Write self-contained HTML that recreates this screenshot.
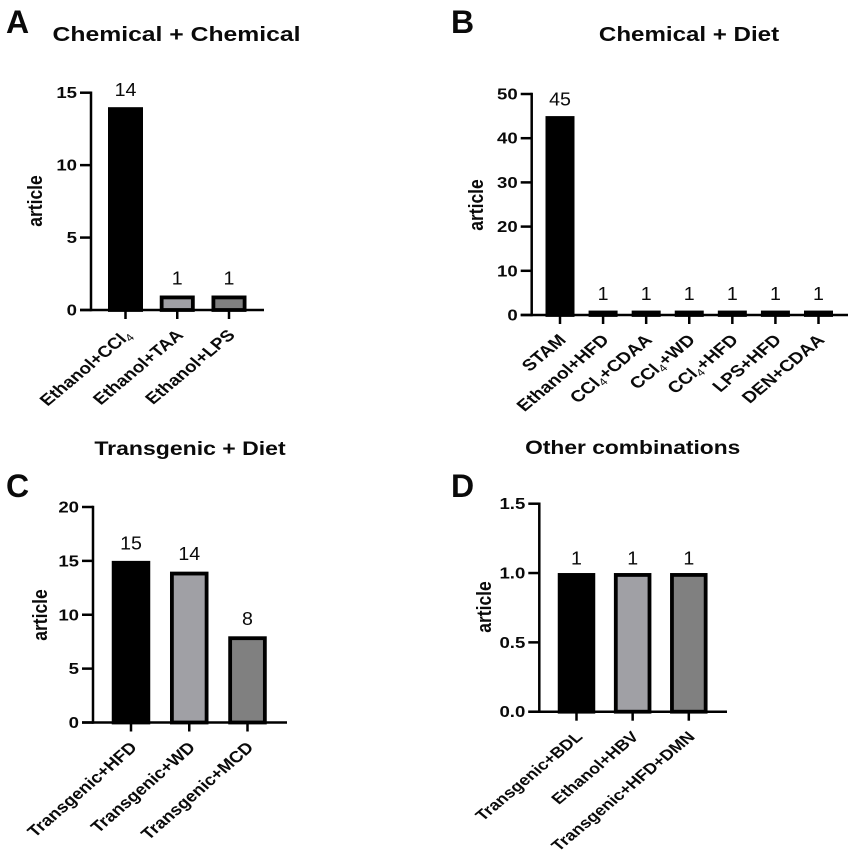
<!DOCTYPE html>
<html>
<head>
<meta charset="utf-8">
<title>Combination model article counts</title>
<style>
html,body{margin:0;padding:0;background:#fff;}
svg{display:block;}
text{font-family:"Liberation Sans",Arial,sans-serif;fill:#0a0a0a;}
</style>
</head>
<body>
<svg id="figure" width="854" height="854" viewBox="0 0 854 854" xmlns="http://www.w3.org/2000/svg"></svg>
<script>
// Panel A data
const categoriesA = ["Ethanol+CCl4", "Ethanol+TAA", "Ethanol+LPS"];
const valuesA = [14, 1, 1];
const ticksA = [0, 5, 10, 15];
const tickLabelsA = ["0", "5", "10", "15"];
// Panel B data
const categoriesB = ["STAM", "Ethanol+HFD", "CCl4+CDAA", "CCl4+WD", "CCl4+HFD", "LPS+HFD", "DEN+CDAA"];
const valuesB = [45, 1, 1, 1, 1, 1, 1];
const ticksB = [0, 10, 20, 30, 40, 50];
const tickLabelsB = ["0", "10", "20", "30", "40", "50"];
// Panel C data
const categoriesC = ["Transgenic+HFD", "Transgenic+WD", "Transgenic+MCD"];
const valuesC = [15, 14, 8];
const ticksC = [0, 5, 10, 15, 20];
const tickLabelsC = ["0", "5", "10", "15", "20"];
// Panel D data
const categoriesD = ["Transgenic+BDL", "Ethanol+HBV", "Transgenic+HFD+DMN"];
const valuesD = [1, 1, 1];
const ticksD = [0, 0.5, 1, 1.5];
const tickLabelsD = ["0.0", "0.5", "1.0", "1.5"];

const svg = document.getElementById('figure');
const NS = 'http://www.w3.org/2000/svg';
const STRETCH = 1.2;
const PALETTE = ['#000000', '#a0a0a5', '#808080'];

function make(tag, attrs, parent) {
  const el = document.createElementNS(NS, tag);
  for (const k in attrs) el.setAttribute(k, attrs[k]);
  parent.appendChild(el);
  return el;
}

function drawPanel(p) {
  const g = make('g', {}, svg);
  
  

  const yScale = v => p.base - (v / p.yMax) * (p.base - p.top);
  const n = p.categories.length;
  const xScale = i => p.firstX + i * (p.lastX - p.firstX) / (n - 1);

  const letter = make('text', {x: p.letterX, y: p.letterY, 'font-size': 32, 'font-weight': 'bold'}, g);
  letter.textContent = p.id;
  
  

  const title = make('text', {
    transform: 'translate(' + p.titleX + ',' + p.titleY + ') scale(' + STRETCH + ',1)',
    'text-anchor': 'middle', 'font-size': p.titleSize, 'font-weight': 'bold'}, g);
  title.textContent = p.title;
  
  

  const yTitle = make('text', {
    transform: 'translate(' + p.yTitleX + ',' + p.yTitleY + ') scale(1.14,1) rotate(-90)',
    'text-anchor': 'middle', 'font-size': 17.5, 'font-weight': 'bold'}, g);
  yTitle.textContent = 'article';
  
  

  p.categories.forEach(function (cat, i) {
    const cx = xScale(i);
    const v = p.values[i];
    const yTop = yScale(v);
    const sw = 3.8;
    const fill = p.colors[i % p.colors.length];

    const bar = make('rect', {
      x: cx - p.barW / 2 + sw / 2, y: yTop + sw / 2,
      width: p.barW - sw, height: Math.max(p.base - yTop - sw / 2, 0.5),
      fill: fill, stroke: '#000', 'stroke-width': sw}, g);
    
    

    const val = make('text', {
      transform: 'translate(' + cx + ',' + (yTop - p.valueGap) + ') scale(1.06,1)',
      'text-anchor': 'middle', 'font-size': 18.5}, g);
    val.textContent = String(v);
    
    

    const tick = make('line', {x1: cx, x2: cx, y1: p.base, y2: p.base + 9, stroke: '#000', 'stroke-width': 2.5}, g);
    
    

    const lab = make('text', {
      transform: 'translate(' + (cx + 7) + ',' + (p.base + 26) + ') scale(' + p.labelStretch + ',1) rotate(-45)',
      'text-anchor': 'end', 'font-size': p.labelSize, 'font-weight': 'bold'}, g);
    
    
    const idx = cat.indexOf('CCl4');
    if (idx < 0) {
      lab.textContent = cat;
    } else {
      const before = make('tspan', {}, lab);
      before.textContent = cat.slice(0, idx + 3);
      const sub = make('tspan', {dy: 3, 'font-size': 10.5, 'font-weight': 'normal'}, lab);
      sub.textContent = '4';
      const rest = cat.slice(idx + 4);
      if (rest) {
        const after = make('tspan', {dy: -3}, lab);
        after.textContent = rest;
      }
    }
  });

  p.ticks.forEach(function (t, i) {
    const y = yScale(t);
    const tk = make('line', {x1: p.axisX - 11, x2: p.axisX, y1: y, y2: y, stroke: '#000', 'stroke-width': 2.5}, g);
    
    
    const tl = make('text', {
      transform: 'translate(' + (p.axisX - 14) + ',' + (y + 5.5) + ') scale(' + STRETCH + ',1)',
      'text-anchor': 'end', 'font-size': 15.5, 'font-weight': 'bold'}, g);
    tl.textContent = p.tickLabels[i];
    
    
  });

  const yAxis = make('line', {x1: p.axisX, x2: p.axisX, y1: p.top - 1.25, y2: p.base + 1.25, stroke: '#000', 'stroke-width': 2.5}, g);
  
  

  const xAxis = make('line', {x1: p.axisX - 11, x2: p.xEnd, y1: p.base, y2: p.base, stroke: '#000', 'stroke-width': 2.5}, g);
  
  
}

drawPanel({id: 'A', title: 'Chemical + Chemical', titleSize: 20.6, labelSize: 15.8, labelStretch: 1.2, categories: categoriesA, values: valuesA, ticks: ticksA, tickLabels: tickLabelsA,
  yMax: 15, colors: PALETTE, axisX: 91, top: 92.7, base: 310, xEnd: 264, firstX: 125.5, lastX: 229, barW: 35, valueGap: 11,
  letterX: 6, letterY: 33, titleX: 176.5, titleY: 41, yTitleX: 42, yTitleY: 201});
drawPanel({id: 'B', title: 'Chemical + Diet', titleSize: 20.1, labelSize: 16, labelStretch: 1.2, categories: categoriesB, values: valuesB, ticks: ticksB, tickLabels: tickLabelsB,
  yMax: 50, colors: ['#000000'], axisX: 531.7, top: 94, base: 315, xEnd: 848, firstX: 560, lastX: 818.5, barW: 29, valueGap: 10.5,
  letterX: 451, letterY: 33, titleX: 689, titleY: 41, yTitleX: 483, yTitleY: 205});
drawPanel({id: 'C', title: 'Transgenic + Diet', titleSize: 19.2, labelSize: 16, labelStretch: 1.15, categories: categoriesC, values: valuesC, ticks: ticksC, tickLabels: tickLabelsC,
  yMax: 20, colors: PALETTE, axisX: 93, top: 507, base: 722.5, xEnd: 287, firstX: 131, lastX: 247.5, barW: 38.5, valueGap: 11.5,
  letterX: 6, letterY: 497, titleX: 190, titleY: 455, yTitleX: 47, yTitleY: 615});
drawPanel({id: 'D', title: 'Other combinations', titleSize: 19, labelSize: 15, labelStretch: 1.2, categories: categoriesD, values: valuesD, ticks: ticksD, tickLabels: tickLabelsD,
  yMax: 1.5, colors: PALETTE, axisX: 539.3, top: 503.7, base: 711.7, xEnd: 727, firstX: 576.5, lastX: 688.8, barW: 37.5, valueGap: 8.5,
  letterX: 451, letterY: 497, titleX: 632.7, titleY: 454, yTitleX: 491, yTitleY: 607});
</script>
</body>
</html>
